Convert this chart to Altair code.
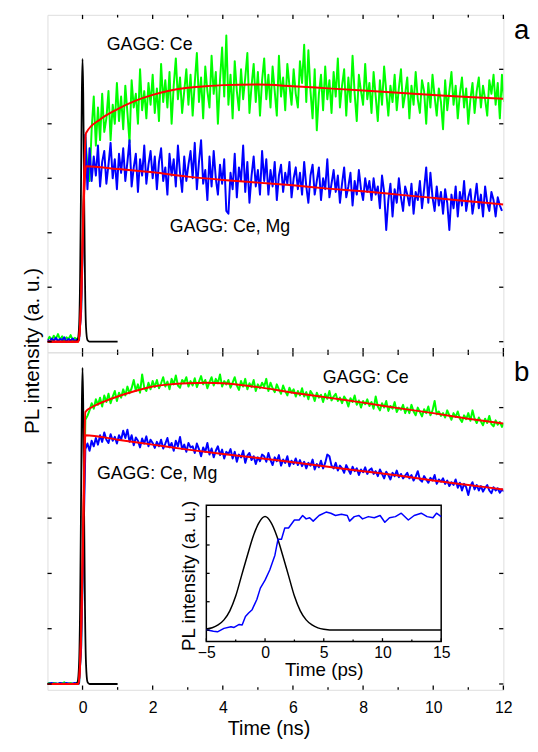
import altair as alt
import pandas as pd

FONT = "Liberation Sans"
GREEN, BLUE, RED, BLACK = "#00ff00", "#0000ff", "#ff0000", "#000000"

# ---------------- data ----------------
# noisy traces: uniform time grid starting at -1.0 ns, step 0.06 ns
T0, DT = -1.0, 0.06

green_a_v = [
    0.03, 0.09, 0.02, 0.11, 0.05, 0.14, 0.04, 0.1, 0.01, 0.08, 0.05, 0.12, 0.03, 0.07, 0.04, 0.08, 0.6, 2.3,
    3.75, 3.2, 2.95, 3.9, 4.5, 3.6, 4.3, 3.7, 4.55, 3.85, 4.1, 4.6, 3.7, 4.35, 4.0, 4.75,
    4.05, 4.5, 3.9, 4.7, 4.2, 3.66, 4.8, 4.3, 4.55, 4.0, 5.0, 4.25, 4.6, 4.1, 4.75, 4.35, 4.9,
    4.2, 4.65, 4.05, 5.1, 4.4, 4.8, 4.3, 4.95, 4.0, 4.7, 5.2, 4.45, 4.85, 4.2, 4.6, 5.0, 4.35,
    4.9, 4.15, 4.75, 5.3, 4.4, 4.85, 4.1, 5.05, 4.6, 4.3, 5.25, 4.55, 4.95, 4.0, 4.8, 5.4, 4.5,
    5.62, 4.35, 4.9, 4.1, 5.15, 4.6, 4.25, 5.0, 4.45, 4.85, 5.3, 4.2, 4.7, 5.1, 4.4, 4.95, 4.15,
    4.8, 5.2, 4.45, 4.9, 4.3, 5.05, 4.6, 4.15, 5.25, 4.5, 4.85, 4.25, 5.1, 4.7, 4.35, 5.0, 4.55,
    4.3, 5.15, 4.75, 5.45, 4.4, 5.35, 4.6, 4.1, 5.0, 3.88, 4.55, 4.9, 4.25, 5.05, 4.45, 4.8, 4.2,
    4.95, 4.5, 5.2, 4.3, 4.7, 5.0, 4.15, 4.85, 4.4, 5.25, 4.55, 4.05, 4.9, 4.6, 4.35, 5.1, 4.45,
    4.75, 4.2, 4.95, 4.5, 4.05, 4.8, 4.35, 5.05, 4.6, 4.15, 4.7, 4.4, 4.9, 4.25, 4.65, 5.0, 4.3,
    4.55, 4.85, 4.1, 4.7, 4.35, 4.95, 4.45, 4.2, 4.8, 4.6, 4.0, 4.75, 4.3, 4.9, 4.5, 4.15, 4.65,
    4.4, 3.9, 4.8, 4.25, 4.6, 4.95, 4.35, 4.7, 4.1, 4.55, 4.85, 4.3, 4.65, 4.0, 4.45, 4.75, 4.2,
    4.6, 4.85, 4.3, 4.7, 4.45, 4.15, 4.8, 4.55, 4.9, 4.35, 4.75, 4.1, 4.9, 4.4,
]

blue_a_v = [
    0.04, 0.0, 0.06, 0.02, 0.07, 0.01, 0.05, 0.03, 0.08, 0.0, 0.05, 0.02, 0.06, 0.01, 0.04, 0.03, 0.55, 2.1,
    3.8, 2.8, 3.55, 2.95, 3.4, 3.05, 3.6, 2.85, 3.3, 3.5, 2.9, 3.25, 3.65, 3.0, 3.35, 2.8, 3.45,
    3.1, 3.55, 2.95, 3.3, 3.7, 2.85, 3.2, 3.45, 2.75, 3.35, 3.05, 3.6, 2.9, 3.25, 3.5, 3.0, 3.4,
    2.8, 3.3, 3.55, 2.95, 3.2, 2.7, 3.45, 3.05, 3.35, 2.85, 3.6, 3.1, 2.75, 3.4, 2.95, 3.25, 3.5,
    3.0, 3.65, 2.8, 3.3, 3.7, 2.9, 3.15, 2.6, 3.4, 2.85, 3.5, 3.0, 2.7, 3.25, 2.9, 3.35, 2.4,
    2.35, 3.1, 2.8, 3.45, 2.65, 3.2, 2.95, 3.6, 2.75, 3.3, 2.55, 3.05, 3.4, 2.85, 3.15, 2.7, 3.5,
    2.95, 3.35, 2.7, 3.15, 2.85, 3.3, 2.6, 3.05, 3.25, 2.75, 3.1, 2.9, 3.3, 2.65, 3.0, 3.2, 2.8,
    3.1, 2.7, 3.3, 2.85, 2.55, 3.05, 3.25, 2.7, 2.95, 3.2, 2.6, 3.0, 2.8, 3.35, 2.65, 2.9, 3.15,
    2.75, 3.05, 2.55, 2.9, 3.2, 2.65, 2.85, 3.1, 2.5, 2.95, 2.7, 3.15, 2.8, 2.6, 3.0, 2.75, 2.95,
    2.6, 3.0, 2.7, 2.85, 2.45, 3.05, 2.75, 2.05, 2.6, 2.9, 2.3, 2.8, 2.55, 3.0, 2.65, 2.4, 2.85,
    2.7, 2.5, 2.9, 2.35, 2.75, 2.6, 2.95, 2.45, 2.8, 3.2, 2.55, 3.1, 2.65, 2.4, 2.85, 2.5, 2.75,
    2.35, 2.8, 2.55, 2.05, 2.7, 2.45, 2.85, 2.3, 2.75, 2.5, 2.95, 2.4, 2.65, 2.8, 2.35, 2.6, 2.9,
    2.45, 2.7, 2.3, 2.85, 2.55, 2.4, 2.75, 2.6, 2.3, 2.65, 2.5, 2.4,
]

green_b_v = [
    0.01, 0.02, 0.0, 0.02, 0.01, 0.0, 0.02, 0.01, 0.03, 0.0, 0.01, 0.02, 0.0, 0.01, 0.02, 0.01, 0.7, 2.6,
    4.78, 4.85, 4.95, 5.08, 4.98, 5.15, 5.05, 5.18, 5.02, 5.22, 5.1, 5.25, 5.08, 5.2, 5.3, 5.12, 5.27,
    5.18, 5.33, 5.22, 5.38, 5.26, 5.35, 5.5, 5.3, 5.42, 5.27, 5.6, 5.36, 5.3, 5.45, 5.33, 5.48, 5.37,
    5.5, 5.35, 5.44, 5.55, 5.38, 5.47, 5.33, 5.52, 5.42, 5.58, 5.4, 5.36, 5.5, 5.45, 5.55, 5.38, 5.48,
    5.4, 5.53, 5.37, 5.47, 5.57, 5.42, 5.5, 5.35, 5.46, 5.55, 5.4, 5.52, 5.44, 5.6, 5.38, 5.48, 5.42,
    5.5, 5.36, 5.45, 5.55, 5.4, 5.32, 5.48, 5.38, 5.52, 5.33, 5.44, 5.37, 5.5, 5.3, 5.42, 5.35, 5.45,
    5.38, 5.52, 5.3, 5.45, 5.35, 5.28, 5.42, 5.33, 5.25, 5.4, 5.3, 5.22, 5.36, 5.27, 5.33, 5.2, 5.3,
    5.22, 5.35, 5.2, 5.28, 5.15, 5.3, 5.24, 5.12, 5.27, 5.18, 5.23, 5.1, 5.25, 5.16, 5.3, 5.13, 5.2,
    5.25, 5.12, 5.18, 5.08, 5.2, 5.14, 5.02, 5.17, 5.1, 5.22, 5.05, 5.13, 5.0, 5.12, 5.06, 5.15, 5.03,
    5.1, 4.98, 5.2, 5.02, 4.95, 5.08, 5.0, 5.12, 4.94, 5.03, 4.98, 5.1, 4.92, 5.0, 4.96, 5.05, 4.9,
    5.0, 4.9, 5.05, 4.93, 4.86, 5.0, 4.92, 4.84, 4.97, 4.9, 5.02, 4.86, 4.95, 5.12, 4.88, 4.93, 4.85,
    4.9, 4.82, 4.95, 4.86, 4.78, 4.9, 4.83, 4.93, 4.8, 4.74, 4.86, 4.79, 4.9, 4.76, 4.95, 4.8, 4.72,
    4.82, 4.75, 4.68, 4.8, 4.72, 4.85, 4.7, 4.66, 4.77, 4.69, 4.74, 4.65, 4.72,
]

blue_b_v = [
    0.0, 0.01, 0.02, 0.0, 0.01, 0.0, 0.02, 0.01, 0.0, 0.02, 0.01, 0.0, 0.01, 0.02, 0.0, 0.01, 0.65, 2.4,
    4.25, 4.35, 4.22, 4.4, 4.3, 4.45, 4.33, 4.5, 4.38, 4.55, 4.42, 4.36, 4.52, 4.4, 4.47, 4.35, 4.5,
    4.42, 4.58, 4.45, 4.6, 4.38, 4.5, 4.32, 4.46, 4.4, 4.28, 4.44, 4.35, 4.48, 4.3, 4.42, 4.36, 4.27,
    4.38, 4.3, 4.42, 4.26, 4.35, 4.45, 4.28, 4.36, 4.22, 4.4, 4.3, 4.47, 4.25, 4.33, 4.2, 4.36, 4.28,
    4.3, 4.18, 4.35, 4.25, 4.12, 4.28, 4.2, 4.36, 4.15, 4.26, 4.1, 4.22, 4.3, 4.14, 4.24, 4.08, 4.2,
    4.16, 4.25, 4.08, 4.2, 4.02, 4.15, 4.1, 4.22, 4.0, 4.13, 4.18, 4.05, 4.12, 3.98, 4.1, 4.03, 4.15,
    4.12, 4.02, 4.18, 4.05, 3.96, 4.1, 4.03, 4.14, 3.95, 4.06, 4.0, 4.12, 3.94, 4.04, 3.98, 4.08, 3.96,
    4.05, 3.94, 4.02, 3.9, 4.0, 3.95, 4.06, 3.88, 3.98, 3.92, 4.04, 3.9, 4.0, 4.15, 4.12, 3.95, 3.9,
    4.0, 3.86, 3.95, 3.9, 3.82, 3.96, 3.88, 3.8, 3.93, 3.85, 3.9, 3.78, 3.88, 3.83, 3.92, 3.8, 3.87,
    3.9, 3.8, 3.85, 3.76, 3.88, 3.8, 3.72, 3.84, 3.78, 3.7, 3.82, 3.76, 3.86, 3.74, 3.8, 3.72, 3.77,
    3.82, 3.72, 3.78, 3.68, 3.75, 3.85, 3.7, 3.66, 3.76, 3.7, 3.64, 3.73, 3.68, 3.78, 3.62, 3.7, 3.66,
    3.72, 3.62, 3.68, 3.58, 3.65, 3.6, 3.7, 3.55, 3.64, 3.5, 3.62, 3.56, 3.42, 3.58, 3.65, 3.52, 3.6,
    3.5, 3.58, 3.48, 3.55, 3.6, 3.5, 3.45, 3.56, 3.5, 3.54, 3.46, 3.52, 3.48,
]

# fitted curves (red)
fit_ga_t = [-1, -0.12, -0.08, -0.04, 0, 0.04, 0.1, 0.5, 1, 1.5, 2, 2.5, 3, 3.5, 4, 5, 6, 7, 8, 9, 10, 11, 12]
fit_ga_v = [0, 0, 0.2, 0.8, 1.9, 3.0, 3.83, 4.08, 4.27, 4.42, 4.53, 4.61, 4.66, 4.69, 4.71, 4.72, 4.69, 4.65,
            4.61, 4.57, 4.53, 4.49, 4.46]
fit_ba_t = [-1, -0.12, -0.08, -0.04, 0, 0.04, 0.1, 1, 2, 3, 4, 5, 6, 7, 8, 9, 10, 11, 12]
fit_ba_v = [0, 0, 0.2, 0.75, 1.7, 2.6, 3.22, 3.17, 3.11, 3.03, 2.97, 2.92, 2.87, 2.81, 2.76, 2.70, 2.64,
            2.58, 2.52]
fit_gb_t = [-1, -0.12, -0.08, -0.04, 0, 0.04, 0.08, 0.3, 0.7, 1, 1.5, 2, 2.5, 3, 3.5, 4, 4.5, 5, 6, 7, 8, 9,
            10, 11, 12]
fit_gb_v = [0, 0, 0.25, 1.0, 2.3, 3.8, 4.92, 5.02, 5.13, 5.2, 5.3, 5.38, 5.42, 5.44, 5.45, 5.44, 5.41, 5.37,
            5.27, 5.18, 5.09, 4.99, 4.9, 4.8, 4.71]
fit_bb_t = [-1, -0.12, -0.08, -0.04, 0, 0.04, 0.08, 1, 2, 3, 4, 5, 6, 7, 8, 9, 10, 11, 12]
fit_bb_v = [0, 0, 0.22, 0.9, 2.1, 3.4, 4.5, 4.42, 4.33, 4.24, 4.16, 4.09, 4.01, 3.93, 3.85, 3.77, 3.68,
            3.60, 3.52]

# instrument response (black)
irf_t = [-1, -0.2, -0.14, -0.1, -0.07, -0.04, -0.02, 0, 0.02, 0.04, 0.07, 0.1, 0.14, 0.2, 1.0]
irf_a_v = [0, 0, 0.03, 0.26, 1.14, 3.11, 4.57, 5.19, 4.57, 3.11, 1.14, 0.26, 0.03, 0, 0]
irf_b_v = [0, 0, 0.04, 0.35, 1.35, 3.5, 5.05, 5.72, 5.05, 3.5, 1.35, 0.35, 0.04, 0, 0]

# inset (ps)
ins_black_t = [-5, -4.5, -4, -3.5, -3, -2.5, -2, -1.5, -1, -0.5, 0, 0.5, 1, 1.5, 2, 2.5, 3, 3.5, 4, 4.5, 5, 6, 15]
ins_black_v = [0.01, 0.02, 0.045, 0.09, 0.17, 0.3, 0.48, 0.66, 0.83, 0.95, 1.0, 0.95, 0.83, 0.66, 0.48, 0.3,
               0.17, 0.09, 0.045, 0.02, 0.008, 0, 0]
ins_blue_t = [-5.0, -4.9, -4.4, -4.05, -3.5, -2.9, -2.64, -2.2, -1.95, -1.67, -1.4, -1.1, -0.7, -0.4, 0.0, 0.4,
              0.84, 1.1, 1.4, 1.68, 2.0, 2.5, 2.9, 3.2, 3.5, 3.8, 4.1, 4.6, 5.2, 5.6, 6.0, 6.5, 7.0, 7.2, 7.6,
              8.0, 8.3, 8.8, 9.3, 9.8, 10.2, 10.6, 11.1, 11.6, 12.2, 12.7, 13.3, 13.8, 14.3, 14.6, 15.0]
ins_blue_v = [0.0, 0.0, -0.01, -0.015, 0.015, 0.03, 0.023, 0.05, 0.045, 0.12, 0.15, 0.18, 0.27, 0.37, 0.44, 0.53,
              0.66, 0.8, 0.8, 0.9, 0.9, 0.97, 0.97, 1.01, 0.98, 0.99, 0.96, 1.01, 1.04, 1.03, 1.01, 1.02, 1.01,
              0.96, 1.0, 1.01, 0.98, 1.0, 0.99, 1.01, 0.95, 0.99, 1.0, 1.03, 0.97, 1.01, 1.03, 1.0, 0.99, 1.03,
              1.0]

# annotations
labels_a = ["GAGG: Ce", "GAGG: Ce, Mg"]
labels_a_t = [0.69, 2.49]
labels_a_v = [5.35, 2.01]
labels_b = ["GAGG: Ce", "GAGG: Ce, Mg"]
labels_b_t = [6.85, 0.41]
labels_b_v = [5.45, 3.71]

x_major = [0, 2, 4, 6, 8, 10, 12]
x_minor = [1, 3, 5, 7, 9, 11]
y_major = [0, 1, 2, 3, 4, 5]
ins_x_major = [-5, 0, 5, 10, 15]
ins_x_minor = [-2.5, 2.5, 7.5, 12.5]
ins_y_major = [0, 0.25, 0.5, 0.75, 1.0]

# ---------------- helpers ----------------
W, H = 462, 342
XDOM = [-1, 12]
YDOM_A = [-0.195, 6.0]
YDOM_B = [-0.105, 6.0]


def trace(values):
    return pd.DataFrame({"t": [round(T0 + DT * i, 4) for i in range(len(values))], "v": values})


def xy(t, v):
    return pd.DataFrame({"t": t, "v": v})


def make_enc(xdom, ydom, xaxis=None, yaxis=None, xrange=None, yrange=None):
    xs = dict(domain=xdom, nice=False, zero=False)
    ys = dict(domain=ydom, nice=False, zero=False)
    if xrange is not None:
        xs["range"] = xrange
    if yrange is not None:
        ys["range"] = yrange
    x = alt.X("t:Q", scale=alt.Scale(**xs), axis=xaxis)
    y = alt.Y("v:Q", scale=alt.Scale(**ys), axis=yaxis)
    return x, y


def line(df, color, width, x, y, interp="linear"):
    return alt.Chart(df).mark_line(color=color, strokeWidth=width, clip=True, interpolate=interp,
                                   strokeJoin="round").encode(x=x, y=y)


def tick_df(xdom, ydom, xmaj, xmin, ymaj, lx_maj, lx_min, ly, top=True, right=True):
    rows = []
    y0, y1 = ydom
    x0, x1 = xdom
    for p, L in [(p, lx_maj) for p in xmaj] + [(p, lx_min) for p in xmin]:
        rows.append((p, p, y0, y0 + L))
        if top:
            rows.append((p, p, y1, y1 - L))
    for p in ymaj:
        rows.append((x0, x0 + ly, p, p))
        if right:
            rows.append((x1, x1 - ly, p, p))
    return pd.DataFrame(rows, columns=["t", "t2", "v", "v2"])


def ticks_layer(df, x, y):
    return alt.Chart(df).mark_rule(color=BLACK, strokeWidth=1.3).encode(
        x=x, x2=alt.X2("t2:Q"), y=y, y2=alt.Y2("v2:Q"))


def text_layer(t, v, labels, x, y, size=18):
    df = pd.DataFrame({"t": t, "v": v, "label": labels})
    return alt.Chart(df).mark_text(align="left", baseline="alphabetic", font=FONT, fontSize=size,
                                   color=BLACK).encode(x=x, y=y, text="label:N")


# ---------------- panel a ----------------
xa, ya = make_enc(XDOM, YDOM_A)
panel_a = alt.layer(
    line(trace(green_a_v), GREEN, 2, xa, ya),
    line(trace(blue_a_v), BLUE, 2, xa, ya),
    line(xy(irf_t, irf_a_v), BLACK, 1.8, xa, ya, "monotone"),
    line(xy(fit_ga_t, fit_ga_v), RED, 2, xa, ya, "monotone"),
    line(xy(fit_ba_t, fit_ba_v), RED, 2, xa, ya, "monotone"),
    ticks_layer(tick_df(XDOM, YDOM_A, x_major, x_minor, y_major, 0.078, 0.049, 0.12), xa, ya),
    text_layer(labels_a_t, labels_a_v, labels_a, xa, ya),
    text_layer([12.3], [5.55], ["a"], xa, ya, size=28),
).properties(width=W, height=H)

# ---------------- panel b ----------------
xaxis_b = alt.Axis(orient="bottom", values=x_major, labels=True, ticks=False, tickSize=0, domain=False,
                   grid=False, labelFontSize=16, labelPadding=10, labelFlush=False, labelOverlap=False,
                   title="Time (ns)", titleFontSize=20, titleFontWeight="normal", titleX=224, titleY=45,
                   titleBaseline="alphabetic", titleAlign="center")
yaxis_b = alt.Axis(orient="left", labels=False, ticks=False, tickSize=0, domain=False, grid=False,
                   title="PL intensity (a. u.)", titleFontSize=21, titleFontWeight="normal", titleX=-9.5,
                   titleY=-2, titleAngle=-90, titleBaseline="alphabetic", titleAlign="center")
xb, yb = make_enc(XDOM, YDOM_B, xaxis_b, yaxis_b)

main_b = alt.layer(
    line(trace(green_b_v), GREEN, 2, xb, yb),
    line(trace(blue_b_v), BLUE, 2, xb, yb),
    line(xy(irf_t, irf_b_v), BLACK, 1.8, xb, yb, "monotone"),
    line(xy(fit_gb_t, fit_gb_v), RED, 2, xb, yb, "monotone"),
    line(xy(fit_bb_t, fit_bb_v), RED, 2, xb, yb, "monotone"),
    ticks_layer(tick_df(XDOM, YDOM_B, x_major, x_minor, y_major, 0.077, 0.048, 0.12), xb, yb),
    text_layer(labels_b_t, labels_b_v, labels_b, xb, yb),
    text_layer([12.3], [5.48], ["b"], xb, yb, size=28),
)

# inset
IXDOM = [-5, 15]
IYDOM = [-0.1, 1.1]
ixaxis = alt.Axis(orient="bottom", values=ins_x_major, ticks=False, tickSize=0, domain=False, grid=False,
                  offset=-49, labelFontSize=16, labelPadding=3, labelFlush=False, labelOverlap=False,
                  title="Time (ps)", titleFontSize=19, titleFontWeight="normal", titleY=35,
                  titleBaseline="alphabetic")
iyaxis = alt.Axis(orient="left", labels=False, ticks=False, tickSize=0, domain=False, grid=False, offset=-161,
                  title="PL intensity (a. u.)", titleFontSize=19, titleFontWeight="normal", titleX=-12,
                  titleY=226, titleAngle=-90, titleBaseline="alphabetic", titleAlign="center")
ix, iy = make_enc(IXDOM, IYDOM, ixaxis, iyaxis, xrange=[161, 399], yrange=[293, 155])

frame_df = pd.DataFrame({"t": [IXDOM[0]], "t2": [IXDOM[1]], "v": [IYDOM[0]], "v2": [IYDOM[1]]})
inset = alt.layer(
    alt.Chart(frame_df).mark_rect(fill="white", stroke=BLACK, strokeWidth=1.5).encode(
        x=ix, x2=alt.X2("t2:Q"), y=iy, y2=alt.Y2("v2:Q")),
    line(xy(ins_black_t, ins_black_v), BLACK, 1.5, ix, iy, "monotone"),
    line(xy(ins_blue_t, ins_blue_v), BLUE, 1.5, ix, iy),
    ticks_layer(tick_df(IXDOM, IYDOM, ins_x_major, ins_x_minor, ins_y_major, 0.029, 0.017, 0.28,
                        top=False, right=False), ix, iy),
)

panel_b = alt.layer(main_b, inset).resolve_scale(x="independent", y="independent").properties(
    width=W, height=H)

chart = alt.vconcat(panel_a, panel_b, spacing=0, bounds="flush").properties(
    padding={"left": 12, "top": 0, "right": 0, "bottom": 0}
).configure_view(stroke=BLACK, strokeWidth=1.5).configure_axis(
    labelFont=FONT, titleFont=FONT, labelColor=BLACK, titleColor=BLACK, titleFontWeight="normal"
).configure(font=FONT, background="white")

chart.save("out.html", embed_options={"renderer": "svg", "actions": False})
